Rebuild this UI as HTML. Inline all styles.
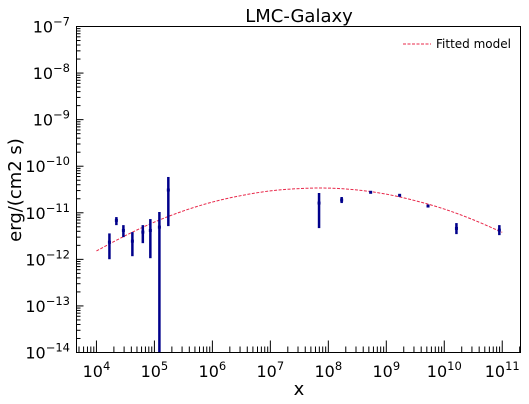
<!DOCTYPE html>
<html><head><meta charset="utf-8"><style>
html,body{margin:0;padding:0;background:#fff;}
svg{display:block;font-family:"DejaVu Sans","Liberation Sans",sans-serif;}
</style></head><body>
<svg id="chart" width="529" height="404">
</svg>
<script>
// data (log10 values)
const xsLog = [4.224,4.344,4.465,4.62,4.80,4.93,5.086,5.24,7.84,8.23,8.73,9.23,9.72,10.21,10.95];
const ysLog = [-11.631,-11.163,-11.379,-11.609,-11.415,-11.379,-11.308,-10.511,-10.791,-10.726,-10.56,-10.625,-10.855,-11.336,-11.372];
const yHiLog = [-11.443,-11.092,-11.265,-11.415,-11.265,-11.135,-10.984,-10.231,-10.575,-10.661,-10.55,-10.615,-10.845,-11.221,-11.265];
const yLoLog = [-11.997,-11.265,-11.523,-11.932,-11.652,-11.975,-15,-11.286,-11.329,-10.791,-10.57,-10.635,-10.865,-11.458,-11.480];
const modelXLog = [4,4.5,5,5.5,6,6.5,7,7.5,8,8.5,9,9.5,10,10.5,11];
const modelYLog = [-11.82,-11.49,-11.2,-10.96,-10.77,-10.63,-10.53,-10.48,-10.47,-10.51,-10.6,-10.74,-10.92,-11.15,-11.42];
const xTickExp = [4,5,6,7,8,9,10,11];
const yTickExp = [-7,-8,-9,-10,-11,-12,-13,-14];

const L=76.5,R=520.5,T=26.5,B=352.5;
const xMin=3.656,xMax=11.315,yMin=-14,yMax=-7;
const X=v=>L+(v-xMin)/(xMax-xMin)*(R-L);
const Y=v=>B-(v-yMin)/(yMax-yMin)*(B-T);
const svg=document.getElementById('chart');
const NS='http://www.w3.org/2000/svg';
function mk(tag,attrs,parent){const e=document.createElementNS(NS,tag);for(const k in attrs)e.setAttribute(k,attrs[k]);(parent||svg).appendChild(e);return e;}

// ticks
const tg=mk('g',{stroke:'#000','stroke-width':1});


for(let e=3;e<=11;e++){for(let m=1;m<10;m++){const v=e+Math.log10(m);if(v<xMin||v>xMax)continue;const x=X(v);const len=m===1?12:6;mk('line',{x1:x,x2:x,y1:B,y2:B-len},tg);}}
for(let e=-14;e<=-7;e++){for(let m=1;m<10;m++){const v=e+Math.log10(m);if(v<yMin||v>yMax)continue;const y=Y(v);const len=m===1?7:4;mk('line',{x1:L,x2:L+len,y1:y,y2:y},tg);}}

xTickExp.forEach(e=>{const t=mk('text',{x:X(e),y:377,'text-anchor':'middle','font-size':16,fill:'#000'});


t.innerHTML='10<tspan dy="-7" font-size="11.5">'+e+'</tspan>';});
yTickExp.forEach(e=>{const t=mk('text',{x:70,y:Y(e)+6,'text-anchor':'end','font-size':16,fill:'#000'});


t.innerHTML='10<tspan dy="-7" font-size="11.5">\u2212'+(-e)+'</tspan>';});

// model curve (Catmull-Rom)
const pts=modelXLog.map((v,i)=>[X(v),Y(modelYLog[i])]);
let d='M'+pts[0][0]+','+pts[0][1];
for(let i=0;i<pts.length-1;i++){const p0=pts[Math.max(0,i-1)],p1=pts[i],p2=pts[i+1],p3=pts[Math.min(pts.length-1,i+2)];
d+=' C'+(p1[0]+(p2[0]-p0[0])/6)+','+(p1[1]+(p2[1]-p0[1])/6)+' '+(p2[0]-(p3[0]-p1[0])/6)+','+(p2[1]-(p3[1]-p1[1])/6)+' '+p2[0]+','+p2[1];}
const curve=mk('path',{d:d,fill:'none',stroke:'#e8284a','stroke-width':1,'stroke-dasharray':'3,1.5'});



// data points
const clip=mk('clipPath',{id:'pc'});mk('rect',{x:L,y:T,width:R-L,height:B-T},clip);
const dg=mk('g',{'clip-path':'url(#pc)'});


xsLog.forEach((v,i)=>{const x=X(v);
const eb=mk('line',{x1:x,x2:x,y1:Y(yHiLog[i]),y2:Y(yLoLog[i]),stroke:'#00008b','stroke-width':2.5},dg);


const c=mk('rect',{x:x-1.5,y:Y(ysLog[i])-1.5,width:3,height:3,fill:'#00008b'},dg);

});

// frame
const fr=mk('rect',{x:L,y:T,width:R-L,height:B-T,fill:'none',stroke:'#000','stroke-width':1});



// legend
const lg=mk('g',{});


mk('line',{x1:403,x2:431,y1:44,y2:44,stroke:'#e8284a','stroke-width':1,'stroke-dasharray':'3,1.5'},lg);
const lt=mk('text',{x:436,y:48,'font-size':12,fill:'#000'},lg);lt.textContent='Fitted model';

const title=mk('text',{x:299,y:22,'text-anchor':'middle','font-size':18,fill:'#000'});


title.textContent='LMC-Galaxy';
const xl=mk('text',{x:299,y:395,'text-anchor':'middle','font-size':18,fill:'#000'});


xl.textContent='x';
const yl=mk('text',{x:0,y:0,'text-anchor':'middle','font-size':18,fill:'#000',transform:'translate(21,190) rotate(-90)'});


yl.textContent='erg/(cm2 s)';
</script>
</body></html>
